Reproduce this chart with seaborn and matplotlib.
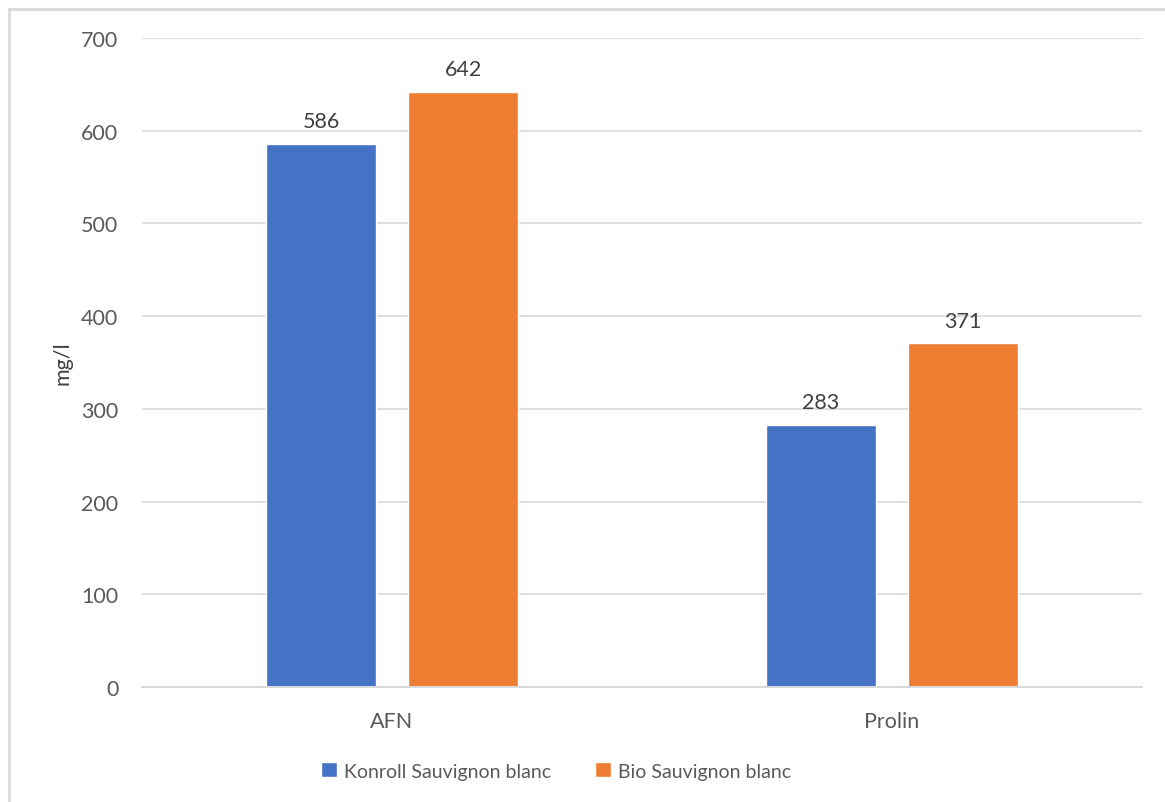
import matplotlib.pyplot as plt
import matplotlib.patches as mpatches
import seaborn as sns
import pandas as pd

# values
categories = ['AFN', 'Prolin']
series = ['Konroll Sauvignon blanc', 'Bio Sauvignon blanc']
kontroll = [586, 283]
bio = [642, 371]
y_ticks = [0, 100, 200, 300, 400, 500, 600, 700]

df = pd.DataFrame({
    'cat': categories * 2,
    'serie': [series[0]] * 2 + [series[1]] * 2,
    'val': kontroll + bio,
})

sns.set_style('white')
plt.rcParams['font.family'] = ['Lato', 'DejaVu Sans']

fig = plt.figure(figsize=(11.65, 8.03), dpi=100)
ax = fig.add_axes([142 / 1165, 1 - 688 / 803, 1000 / 1165, 649 / 803])

sns.barplot(data=df, x='cat', y='val', hue='serie', hue_order=series,
            palette=['#4472C4', '#ED7D31'], width=0.568, gap=0.22,
            saturation=1, ax=ax, legend=True)

for c in ax.containers:
    ax.bar_label(c, fmt='%d', padding=9, fontsize=15.5, color='#404040')

ax.set_xlim(-0.5, 1.5)
ax.set_ylim(0, 700)
ax.set_yticks(y_ticks)
ax.yaxis.grid(True, color='#D9D9D9', linewidth=1.2)
ax.set_axisbelow(True)
for s in ['top', 'right', 'left']:
    ax.spines[s].set_visible(False)
ax.spines['bottom'].set_color('#D9D9D9')
ax.spines['bottom'].set_linewidth(1.5)
ax.tick_params(axis='both', length=0, labelsize=15.5, colors='#595959')
ax.tick_params(axis='y', pad=17)
ax.tick_params(axis='x', pad=17)
ax.set_xlabel('')
ax.set_ylabel('mg/l', fontsize=15.5, color='#404040', labelpad=6)

ax.legend(loc='center', bbox_to_anchor=(556 / 1165, 1 - 772 / 803),
          bbox_transform=fig.transFigure, ncol=2, frameon=False,
          fontsize=14, labelcolor='#595959', handlelength=0.8,
          handleheight=0.8, handletextpad=0.35, columnspacing=2.3)

# chart area border (left/top edges visible)
fig.patches.append(mpatches.Rectangle((9 / 1165, -0.1), 1.2, 1 - 10 / 803 + 0.1,
                                      transform=fig.transFigure, fill=False,
                                      edgecolor='#D9D9D9', linewidth=2))

fig.savefig('out.png', dpi=100)
